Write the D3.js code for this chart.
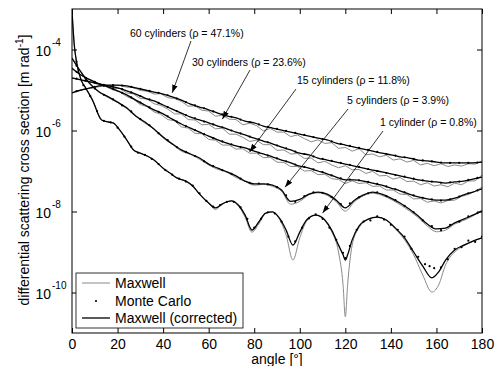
<!DOCTYPE html>
<html>
<head>
<meta charset="utf-8">
<script src="https://cdn.jsdelivr.net/npm/d3@7"></script>
<style>
  body { margin: 0; background: #fff; }
  text { font-family: "Liberation Sans", Arial, sans-serif; fill: #000; }
</style>
</head>
<body>
<svg id="chart" width="496" height="366"></svg>
<script>
// ---- data (log10 of cross section) ----
const xTicks = [0, 20, 40, 60, 80, 100, 120, 140, 160, 180];
const yTickExps = [-4, -6, -8, -10];

const angles4 = d3.range(0, 181, 4);     // corrected curves, 5..60 cylinders
const angles3 = d3.range(0, 181, 3);     // Maxwell curves, 15..60 cylinders
const anglesMC = d3.range(2, 179, 4);    // Monte Carlo, 5..60 cylinders

// 1 cylinder
const angles1 = [0,1,2,4,6,9,13,16,18,21,24,27,30,33,36,40,43,46,50,53,56,60,63,66,70,73,76,79,82,85,88,91,94,97,100,103,107,111,114,117,119,120,121,123,126,130,134,138,142,146,150,154,158,161,164,168,172,176,180];
const corr1 = [-3.05,-3.89,-4.31,-4.75,-4.95,-5.25,-5.74,-5.79,-5.81,-5.99,-6.23,-6.48,-6.56,-6.63,-6.73,-6.93,-7.05,-7.17,-7.25,-7.37,-7.57,-7.79,-7.91,-7.81,-7.74,-7.84,-8.09,-8.46,-8.26,-8.04,-8.01,-8.16,-8.46,-8.83,-8.51,-8.21,-8.09,-8.21,-8.46,-8.83,-9.07,-9.20,-9.07,-8.70,-8.36,-8.19,-8.14,-8.21,-8.41,-8.65,-9.00,-9.35,-9.64,-9.49,-9.20,-8.95,-8.83,-8.73,-8.65];
const maxw1 = [-3.05,-3.89,-4.31,-4.75,-4.95,-5.25,-5.74,-5.79,-5.81,-5.99,-6.23,-6.48,-6.56,-6.63,-6.73,-6.93,-7.05,-7.17,-7.25,-7.37,-7.57,-7.80,-7.95,-7.82,-7.74,-7.86,-8.14,-8.51,-8.31,-8.05,-8.01,-8.18,-8.58,-9.20,-8.65,-8.24,-8.09,-8.22,-8.50,-9.00,-9.81,-10.60,-9.81,-8.83,-8.40,-8.20,-8.14,-8.22,-8.43,-8.70,-9.07,-9.57,-9.99,-9.81,-9.32,-9.00,-8.85,-8.74,-8.65];
const anglesMC1 = [2,5,8,11,14,17,20,23,26,29,32,35,38,41,44,47,50,53,56,59,62,65,68,71,74,77,80,83,86,89,92,95,98,101,104,107,110,113,116,119,120,122,125,128,131,134,137,140,143,146,149,152,155,157,159,162,165,168,171,174,177,180];
const mc1 = [-4.30,-4.88,-5.15,-5.52,-5.76,-5.80,-5.93,-6.15,-6.40,-6.55,-6.60,-6.70,-6.83,-6.98,-7.09,-7.19,-7.26,-7.36,-7.55,-7.74,-7.88,-7.84,-7.76,-7.76,-7.90,-8.18,-8.40,-8.18,-8.02,-8.05,-8.25,-8.62,-8.74,-8.40,-8.17,-8.07,-8.18,-8.40,-8.70,-9.02,-9.15,-8.85,-8.45,-8.25,-8.22,-8.12,-8.20,-8.33,-8.45,-8.62,-8.92,-9.12,-9.30,-9.35,-9.40,-9.38,-9.18,-8.92,-8.88,-8.72,-8.75,-8.62];

// 5 cylinders
const corr5 = [-4.21,-4.56,-4.85,-5.05,-5.17,-5.30,-5.44,-5.64,-5.79,-5.96,-6.16,-6.33,-6.48,-6.58,-6.68,-6.83,-6.93,-7.02,-7.12,-7.25,-7.32,-7.32,-7.35,-7.47,-7.75,-7.70,-7.57,-7.52,-7.57,-7.72,-7.91,-7.72,-7.59,-7.52,-7.57,-7.67,-7.79,-7.94,-8.11,-8.31,-8.43,-8.41,-8.28,-8.19,-8.09,-7.99];
const maxw5 = [-4.23,-4.57,-4.87,-5.06,-5.19,-5.31,-5.46,-5.65,-5.82,-5.97,-6.19,-6.34,-6.51,-6.59,-6.71,-6.85,-6.96,-7.03,-7.16,-7.26,-7.35,-7.33,-7.38,-7.50,-7.82,-7.75,-7.59,-7.54,-7.60,-7.76,-7.99,-7.76,-7.61,-7.55,-7.60,-7.70,-7.83,-7.98,-8.15,-8.36,-8.50,-8.46,-8.31,-8.22,-8.11,-7.96];
const mc5 = [-4.40,-4.72,-4.96,-5.12,-5.23,-5.38,-5.53,-5.72,-5.87,-6.07,-6.24,-6.41,-6.53,-6.63,-6.76,-6.88,-6.98,-7.07,-7.19,-7.29,-7.31,-7.33,-7.40,-7.60,-7.76,-7.62,-7.53,-7.54,-7.64,-7.82,-7.80,-7.65,-7.55,-7.53,-7.62,-7.72,-7.86,-8.02,-8.22,-8.36,-8.46,-8.33,-8.25,-8.12,-8.04];

// 15 cylinders
const corr15 = [-4.46,-4.63,-4.75,-4.85,-4.93,-5.02,-5.12,-5.25,-5.37,-5.49,-5.59,-5.72,-5.84,-5.94,-6.04,-6.14,-6.23,-6.31,-6.38,-6.43,-6.51,-6.58,-6.65,-6.73,-6.80,-6.88,-6.93,-7.00,-7.07,-7.15,-7.22,-7.22,-7.25,-7.30,-7.35,-7.42,-7.49,-7.57,-7.64,-7.69,-7.72,-7.72,-7.67,-7.59,-7.52,-7.44];
const maxw15 = [-4.48,-4.60,-4.71,-4.77,-4.87,-4.92,-5.00,-5.05,-5.16,-5.23,-5.36,-5.41,-5.54,-5.60,-5.73,-5.76,-5.91,-5.94,-6.07,-6.08,-6.22,-6.24,-6.36,-6.36,-6.46,-6.45,-6.56,-6.56,-6.67,-6.66,-6.78,-6.79,-6.89,-6.89,-7.00,-6.99,-7.09,-7.08,-7.19,-7.21,-7.31,-7.24,-7.31,-7.29,-7.38,-7.37,-7.47,-7.47,-7.57,-7.58,-7.69,-7.68,-7.77,-7.74,-7.79,-7.73,-7.72,-7.63,-7.58,-7.50,-7.40];
const mc15 = [-4.55,-4.70,-4.80,-4.89,-4.97,-5.07,-5.18,-5.31,-5.43,-5.54,-5.65,-5.78,-5.89,-5.99,-6.09,-6.19,-6.27,-6.34,-6.41,-6.47,-6.55,-6.62,-6.69,-6.76,-6.84,-6.90,-6.96,-7.03,-7.11,-7.18,-7.21,-7.23,-7.27,-7.32,-7.38,-7.45,-7.53,-7.60,-7.66,-7.70,-7.73,-7.70,-7.63,-7.55,-7.48];

// 30 cylinders
const corr30 = [-4.70,-4.75,-4.80,-4.85,-4.90,-4.95,-5.02,-5.10,-5.20,-5.27,-5.37,-5.47,-5.57,-5.67,-5.74,-5.81,-5.89,-5.96,-6.04,-6.11,-6.19,-6.26,-6.33,-6.41,-6.48,-6.56,-6.60,-6.68,-6.73,-6.78,-6.83,-6.88,-6.93,-6.98,-7.02,-7.07,-7.12,-7.17,-7.22,-7.25,-7.27,-7.30,-7.27,-7.25,-7.20,-7.15];
const maxw30 = [-4.71,-4.74,-4.79,-4.81,-4.88,-4.90,-4.96,-4.96,-5.07,-5.10,-5.21,-5.22,-5.34,-5.38,-5.47,-5.59,-5.59,-5.73,-5.74,-5.86,-5.85,-5.96,-5.94,-6.09,-6.09,-6.17,-6.27,-6.24,-6.35,-6.35,-6.49,-6.48,-6.58,-6.57,-6.69,-6.68,-6.80,-6.76,-6.85,-6.92,-6.87,-6.97,-6.96,-7.06,-7.01,-7.12,-7.11,-7.20,-7.16,-7.26,-7.25,-7.34,-7.29,-7.37,-7.34,-7.39,-7.30,-7.34,-7.25,-7.24,-7.10];
const mc30 = [-4.72,-4.77,-4.82,-4.87,-4.92,-4.98,-5.06,-5.15,-5.23,-5.32,-5.42,-5.52,-5.62,-5.70,-5.78,-5.85,-5.92,-6.00,-6.07,-6.15,-6.22,-6.29,-6.37,-6.44,-6.52,-6.58,-6.64,-6.70,-6.75,-6.80,-6.85,-6.90,-6.95,-7.00,-7.05,-7.10,-7.14,-7.19,-7.23,-7.26,-7.29,-7.28,-7.26,-7.22,-7.17];

// 60 cylinders
const corr60 = [-5.07,-5.00,-4.95,-4.90,-4.88,-4.88,-4.90,-4.95,-5.00,-5.05,-5.10,-5.17,-5.25,-5.35,-5.42,-5.49,-5.57,-5.64,-5.69,-5.77,-5.81,-5.89,-5.94,-5.99,-6.04,-6.09,-6.14,-6.19,-6.23,-6.31,-6.36,-6.41,-6.46,-6.51,-6.56,-6.60,-6.65,-6.68,-6.73,-6.75,-6.78,-6.80,-6.80,-6.80,-6.80,-6.78];
const maxw60 = [-5.07,-5.02,-4.98,-4.94,-4.92,-4.88,-4.90,-4.89,-4.93,-4.94,-5.01,-5.03,-5.10,-5.09,-5.19,-5.21,-5.28,-5.40,-5.39,-5.50,-5.52,-5.65,-5.62,-5.72,-5.73,-5.86,-5.82,-5.88,-6.01,-5.95,-6.04,-6.04,-6.15,-6.11,-6.20,-6.28,-6.23,-6.32,-6.30,-6.44,-6.42,-6.51,-6.45,-6.60,-6.58,-6.65,-6.61,-6.73,-6.70,-6.78,-6.74,-6.85,-6.81,-6.87,-6.82,-6.89,-6.85,-6.88,-6.82,-6.83,-6.75];
const mc60 = [-5.03,-4.97,-4.92,-4.89,-4.88,-4.89,-4.92,-4.97,-5.02,-5.07,-5.13,-5.21,-5.30,-5.38,-5.45,-5.53,-5.60,-5.66,-5.73,-5.79,-5.85,-5.91,-5.96,-6.01,-6.06,-6.11,-6.16,-6.21,-6.27,-6.33,-6.38,-6.43,-6.48,-6.53,-6.58,-6.62,-6.66,-6.70,-6.74,-6.76,-6.79,-6.80,-6.80,-6.80,-6.79];

// annotations: label, text position (px), arrow tip (angle, log10 value)
const labels = ['60 cylinders (\u03c1 = 47.1%)', '30 cylinders (\u03c1 = 23.6%)', '15 cylinders (\u03c1 = 11.8%)', '5 cylinders (\u03c1 = 3.9%)', '1 cylinder (\u03c1 = 0.8%)'];
const labelPos = [[130, 37], [192, 66], [297, 84], [347, 104], [380, 126]];
const arrowFrom = [[191, 41], [250, 70], [296, 89], [348, 109], [383, 131]];
const arrowTip = [[44, -5.07], [66, -5.72], [78, -6.53], [93.5, -7.40], [110, -8.04]];

const legendItems = ['Maxwell', 'Monte Carlo', 'Maxwell (corrected)'];

// ---- chart ----
const W = 496, H = 366;
const margin = {top: 9, right: 14, bottom: 33, left: 72};
const x = d3.scaleLinear().domain([0, 180]).range([margin.left, W - margin.right]);
const y = d3.scaleLog().domain([1e-11, 1e-3]).range([H - margin.bottom, margin.top]);

const svg = d3.select('#chart');
svg.append('rect').attr('width', W).attr('height', H).attr('fill', '#fff');

svg.append('defs').append('clipPath').attr('id', 'plot-clip')
  .append('rect')
  .attr('x', margin.left).attr('y', margin.top)
  .attr('width', x(180) - x(0)).attr('height', y(1e-11) - y(1e-3));

svg.append('defs').append('marker')
  .attr('id', 'arrow')
  .attr('viewBox', '0 0 10 10')
  .attr('refX', 10).attr('refY', 5)
  .attr('markerWidth', 8).attr('markerHeight', 8)
  .attr('markerUnits', 'userSpaceOnUse')
  .attr('orient', 'auto')
  .append('path')
  .attr('d', 'M0,1.5 L10,5 L0,8.5 Z')
  .attr('fill', '#000');

const pts = (angles, logs) => angles.map((a, i) => [a, Math.pow(10, logs[i])]);
const lineLin = d3.line().x(d => x(d[0])).y(d => y(d[1]));
const lineSmooth = d3.line().x(d => x(d[0])).y(d => y(d[1])).curve(d3.curveMonotoneX);

const series = [
  {corr: pts(angles4, corr60), maxw: pts(angles3, maxw60), mc: pts(anglesMC, mc60), smooth: false},
  {corr: pts(angles4, corr30), maxw: pts(angles3, maxw30), mc: pts(anglesMC, mc30), smooth: false},
  {corr: pts(angles4, corr15), maxw: pts(angles3, maxw15), mc: pts(anglesMC, mc15), smooth: false},
  {corr: pts(angles4, corr5), maxw: pts(angles4, maxw5), mc: pts(anglesMC, mc5), smooth: true},
  {corr: pts(angles1, corr1), maxw: pts(angles1, maxw1), mc: pts(anglesMC1, mc1), smooth: true}
];

const plot = svg.append('g').attr('clip-path', 'url(#plot-clip)');

// Maxwell (grey)
series.forEach(s => {
  plot.append('path')
    .attr('d', (s.smooth ? lineSmooth : lineLin)(s.maxw))
    .attr('fill', 'none')
    .attr('stroke', '#8a8a8a')
    .attr('stroke-width', 1);
});
// Maxwell corrected (black)
series.forEach(s => {
  plot.append('path')
    .attr('d', lineSmooth(s.corr))
    .attr('fill', 'none')
    .attr('stroke', '#000')
    .attr('stroke-width', 1.3);
});
// Monte Carlo dots
series.forEach(s => {
  plot.selectAll(null)
    .data(s.mc)
    .enter()
    .append('circle')
    .attr('cx', d => x(d[0]))
    .attr('cy', d => y(d[1]))
    .attr('r', 1.1)
    .attr('fill', '#000');
});

// axes (MATLAB box style, ticks inside)
const axisStyle = g => {
  g.select('.domain').remove();
  g.selectAll('line').attr('stroke', '#000');
};
svg.append('g')
  .attr('transform', 'translate(0,' + y(1e-11) + ')')
  .call(d3.axisBottom(x).tickValues(xTicks).tickSize(-5).tickPadding(6))
  .call(axisStyle)
  .call(g => g.selectAll('text').attr('font-size', 14).attr('fill', '#000'));
svg.append('g')
  .attr('transform', 'translate(0,' + y(1e-3) + ')')
  .call(d3.axisTop(x).tickValues(xTicks).tickSize(-5).tickFormat(''))
  .call(axisStyle);
const yTickVals = yTickExps.map(e => Math.pow(10, e));
svg.append('g')
  .attr('transform', 'translate(' + x(0) + ',0)')
  .call(d3.axisLeft(y).tickValues(yTickVals).tickSize(-5).tickFormat(''))
  .call(axisStyle);
svg.append('g')
  .attr('transform', 'translate(' + x(180) + ',0)')
  .call(d3.axisRight(y).tickValues(yTickVals).tickSize(-5).tickFormat(''))
  .call(axisStyle);

svg.append('rect')
  .attr('x', x(0)).attr('y', y(1e-3))
  .attr('width', x(180) - x(0)).attr('height', y(1e-11) - y(1e-3))
  .attr('fill', 'none').attr('stroke', '#000').attr('stroke-width', 1);

// y tick labels 10^n
yTickExps.forEach(e => {
  const ty = y(Math.pow(10, e));
  svg.append('text').attr('x', 51).attr('y', ty + 6)
    .attr('text-anchor', 'end').attr('font-size', 14).text('10');
  svg.append('text').attr('x', 52).attr('y', ty - 4)
    .attr('font-size', 10).text(String(e));
});

// axis titles
svg.append('text')
  .attr('x', (x(0) + x(180)) / 2).attr('y', 364)
  .attr('text-anchor', 'middle').attr('font-size', 14)
  .text('angle [\u00b0]');

const yl = svg.append('text')
  .attr('transform', 'translate(29,' + 170 + ') rotate(-90)')
  .attr('text-anchor', 'middle').attr('font-size', 14);
yl.append('tspan').text('differential scattering cross section [m rad');
yl.append('tspan').attr('dy', -6).attr('font-size', 10).text('-1');
yl.append('tspan').attr('dy', 6).text(']');

// annotations
labels.forEach((t, i) => {
  svg.append('text')
    .attr('x', labelPos[i][0]).attr('y', labelPos[i][1])
    .attr('font-size', 10.5).text(t);
  svg.append('line')
    .attr('x1', arrowFrom[i][0]).attr('y1', arrowFrom[i][1])
    .attr('x2', x(arrowTip[i][0])).attr('y2', y(Math.pow(10, arrowTip[i][1])))
    .attr('stroke', '#000').attr('stroke-width', 0.8)
    .attr('marker-end', 'url(#arrow)');
});

// legend
const lg = svg.append('g');
lg.append('rect')
  .attr('x', 76).attr('y', 273).attr('width', 167).attr('height', 55)
  .attr('fill', '#fff').attr('stroke', '#000').attr('stroke-width', 0.8);
const legY = [283, 301, 318];
lg.append('line').attr('x1', 82).attr('x2', 110).attr('y1', legY[0]).attr('y2', legY[0])
  .attr('stroke', '#8a8a8a').attr('stroke-width', 1);
lg.append('circle').attr('cx', 96).attr('cy', legY[1]).attr('r', 1.1).attr('fill', '#000');
lg.append('line').attr('x1', 82).attr('x2', 110).attr('y1', legY[2]).attr('y2', legY[2])
  .attr('stroke', '#000').attr('stroke-width', 1.3);
legendItems.forEach((t, i) => {
  lg.append('text').attr('x', 115).attr('y', legY[i] + 5)
    .attr('font-size', 14).text(t);
});
</script>
</body>
</html>
